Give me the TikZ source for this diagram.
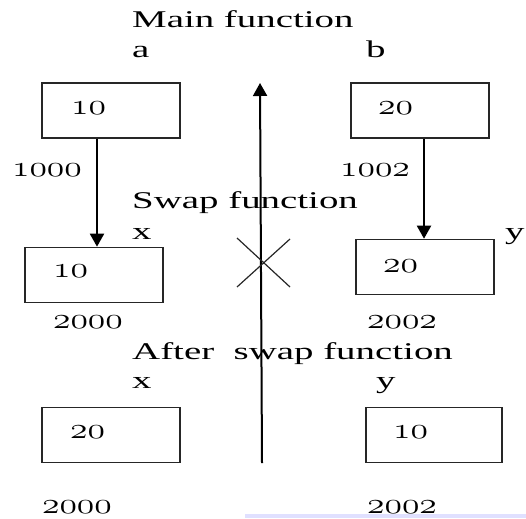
\documentclass[tikz,border=0pt]{standalone}
\usepackage{fontspec}
\setmainfont{Liberation Serif}[FakeStretch=1.62]
\usetikzlibrary{arrows.meta}
\newcommand\osn[1]{\scalebox{1.43}[1.18]{\fontencoding{OML}\fontfamily{cmm}\fontseries{m}\fontshape{it}\fontsize{24.88}{28}\selectfont #1}}
\begin{document}
\begin{tikzpicture}[x=1pt,y=-1pt,
  lbl/.style={anchor=base west,inner sep=0pt,font=\fontsize{24}{28}\selectfont},
  num/.style={anchor=base west,inner sep=0pt},
  cell/.style={draw=black!85,line width=1.6pt,minimum width=138pt,minimum height=55pt,inner sep=0pt},
  arr/.style={line width=2pt,-{Triangle[width=14pt,length=13pt]}}]
\useasboundingbox (0,0) rectangle (526,518);
\fill[blue!12!white] (245,514) rectangle (526,518);
% titles
\node[lbl] (t1) at (132,28) {Main function};
\node[lbl] (va) at (132,58) {a};
\node[lbl] (vb) at (366,58) {b};
\node[lbl] (t2) at (132,209) {Swap function};
\node[lbl] (vx) at (132,239) {x};
\node[lbl] (vy) at (505,239) {y};
\node[lbl] (t3) at (132,359) {After \ swap function};
\node[lbl] (vx2) at (132,388) {x};
\node[lbl] (vy2) at (376,388) {y};
% boxes
\node[cell] (a) at (111,110.5) {};
\node[cell] (b) at (420,110.5) {};
\node[cell] (x) at (94,275) {};
\node[cell] (y) at (425,267) {};
\node[cell] (x2) at (111,435) {};
\node[cell,minimum width=136pt] (y2) at (434,435) {};
% values
\node[num] (na) at (71,115) {\osn{10}};
\node[num] (nb) at (378,115) {\osn{20}};
\node[num] (nx) at (53,277) {\osn{10}};
\node[num] (ny) at (383,272) {\osn{20}};
\node[num] (nx2) at (70,438) {\osn{20}};
\node[num] (ny2) at (393,438) {\osn{10}};
% addresses
\node[num] (d1) at (12,177) {\osn{1000}};
\node[num] (d2) at (340,177) {\osn{1002}};
\node[num] (d3) at (53,328) {\osn{2000}};
\node[num] (d4) at (367,328) {\osn{2002}};
\node[num] (d5) at (42,513) {\osn{2000}};
\node[num] (d6) at (367,513) {\osn{2002}};
% arrows
\coordinate (p1) at (97,0);
\coordinate (p2) at (424,0);
\draw[arr] (a.south -| p1) -- (x.north -| p1);
\draw[arr] (b.south -| p2) -- (y.north -| p2);
% central line
\coordinate (cb) at (262,463);
\coordinate (ct) at (260,83);
\draw[arr] (cb) -- (ct);
% cross
\coordinate (c1) at (237,238);
\coordinate (c2) at (290,287);
\coordinate (c3) at (290,239);
\coordinate (c4) at (237,287);
\draw[line width=1.2pt,black!85] (c1) -- (c2) (c3) -- (c4);
\end{tikzpicture}
\end{document}
